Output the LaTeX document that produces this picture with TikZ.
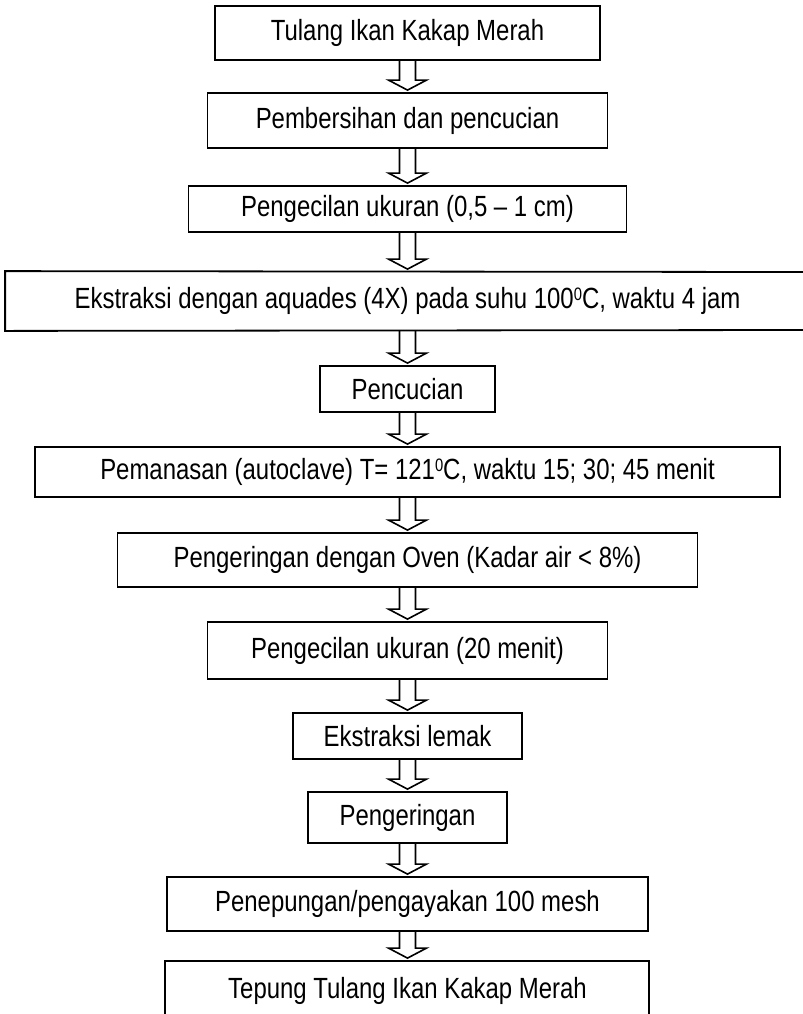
\documentclass[tikz,border=0pt]{standalone}
\usepackage{fontspec}
\setmainfont[FakeStretch=0.82]{Liberation Sans}
\usepackage{tikz}
\usetikzlibrary{calc}

\begin{document}
\begin{tikzpicture}[
    x=0.5pt, y=-0.5pt,
    stepbox/.style={draw,line width=0.9pt,inner sep=0pt,
                    font=\fontsize{14.6}{17}\selectfont},
    blockarr/.style={draw,line width=0.8pt,
      to path={let \p1=(\tikztostart.south), \p2=(\tikztotarget.north) in
        (\x1-4pt,\y1) -- (\x1-4pt,\y2+6pt) -- (\x1-9.5pt,\y2+6pt)
        -- (\x1,\y2+1pt) -- (\x1+9.5pt,\y2+6pt) -- (\x1+4pt,\y2+6pt)
        -- (\x1+4pt,\y1)}},
  ]
  \useasboundingbox (0,0) rectangle (803,1014);

  % process steps, top to bottom, all centred on one column
  \node[stepbox,minimum width=192.5pt,minimum height=27pt]   (tulang)  at (407.5,33)    {Tulang Ikan Kakap Merah};
  \node[stepbox,minimum width=200pt,minimum height=27.5pt]   (bersih)  at (407.5,120.5) {Pembersihan dan pencucian};
  \node[stepbox,minimum width=219pt,minimum height=23pt]     (kecila)  at (407.5,209)   {Pengecilan ukuran (0,5 -- 1 cm)};
  % wide step: open on the right, it runs off the page
  \node[stepbox,draw=none,minimum width=401.5pt,minimum height=29pt] (ekstrak) at (407.5,301)
    {Ekstraksi dengan aquades (4X) pada suhu 100\raisebox{4pt}{\fontsize{9}{9}\selectfont 0}C, waktu 4 jam};
  \draw[line width=0.9pt] (803,272) -- (ekstrak.north west)
    -- (ekstrak.south west) -- (803,330);
  \node[stepbox,minimum width=87.5pt,minimum height=23pt]    (cuci)    at (407.5,389)   {Pencucian};
  \node[stepbox,minimum width=372.5pt,minimum height=25pt]   (panas)   at (407.5,472)
    {Pemanasan (autoclave) T= 121\raisebox{4pt}{\fontsize{9}{9}\selectfont 0}C, waktu 15; 30; 45 menit};
  \node[stepbox,minimum width=290pt,minimum height=27pt]     (oven)    at (407.5,560)   {Pengeringan dengan Oven (Kadar air < 8\%)};
  \node[stepbox,minimum width=200pt,minimum height=28.5pt]   (kecilb)  at (407.5,650.5) {Pengecilan ukuran (20 menit)};
  \node[stepbox,minimum width=114.5pt,minimum height=23pt]   (lemak)   at (407.5,736)   {Ekstraksi lemak};
  \node[stepbox,minimum width=99.5pt,minimum height=25.5pt]  (kering)  at (407.5,817.5) {Pengeringan};
  \node[stepbox,minimum width=240.5pt,minimum height=27pt]   (ayak)    at (407.5,904)   {Penepungan/pengayakan 100 mesh};
  \draw[line width=0.9pt] (165,1014) |- (649,961) -- (649,1014);
  \node[stepbox,draw=none,minimum width=242pt,minimum height=30pt] (tepung) at (407.5,991) {Tepung Tulang Ikan Kakap Merah};

  % --- hollow block arrows between steps ---
  \draw[blockarr] (tulang)  to (bersih);
  \draw[blockarr] (bersih)  to (kecila);
  \draw[blockarr] (kecila)  to (ekstrak);
  \draw[blockarr] (ekstrak) to (cuci);
  \draw[blockarr] (cuci)    to (panas);
  \draw[blockarr] (panas)   to (oven);
  \draw[blockarr] (oven)    to (kecilb);
  \draw[blockarr] (kecilb)  to (lemak);
  \draw[blockarr] (lemak)   to (kering);
  \draw[blockarr] (kering)  to (ayak);
  \draw[blockarr] (ayak)    to (tepung);

\end{tikzpicture}
\end{document}
